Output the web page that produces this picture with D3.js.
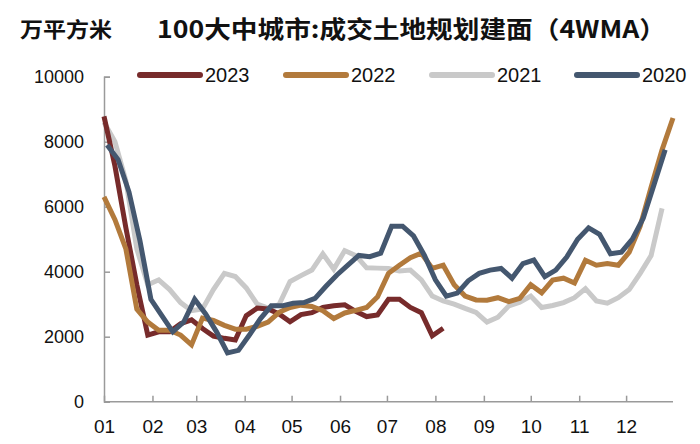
<!DOCTYPE html>
<html>
<head>
<meta charset="utf-8">
<script src="https://cdn.jsdelivr.net/npm/d3@7"></script>
<style>
  html, body { margin: 0; padding: 0; background: #fff; }
  svg { display: block; }
</style>
</head>
<body>
<svg id="chart" width="700" height="444"></svg>
<script>
// ---- data (weekly 4WMA, 万平方米) ----
const seriesNames = ["2023", "2022", "2021", "2020"];
// day-of-year of the first weekly observation for each series
const firstDay = { "2023": 0, "2022": 0, "2021": 0, "2020": 2 };

const values2023 = [8780, 7250, 5350, 3600, 2050, 2150, 2150, 2400, 2520, 2250, 2020, 1950, 1900,
  2650, 2880, 2850, 2700, 2460, 2680, 2740, 2900, 2950, 2980, 2780, 2620, 2670, 3150, 3150, 2900, 2740, 2030, 2260];

const values2022 = [6300, 5600, 4700, 2850, 2450, 2200, 2200, 2050, 1750, 2570, 2500, 2350, 2230,
  2230, 2320, 2450, 2750, 2900, 2970, 2930, 2800, 2560, 2730, 2810, 2900, 3230, 3950, 4200, 4430,
  4570, 4100, 4200, 3600, 3250, 3130, 3120, 3200, 3080, 3180, 3600, 3350, 3740, 3800, 3650, 4350,
  4200, 4250, 4200, 4600, 5400, 6600, 7750, 8730];

const values2021 = [8600, 8000, 6800, 4700, 3600, 3750, 3450, 3050, 2800, 2850, 3450, 3950, 3850,
  3500, 3000, 2880, 2990, 3700, 3880, 4050, 4550, 4080, 4650, 4500, 4120, 4110, 4100, 4020, 4050,
  3750, 3250, 3100, 3000, 2870, 2750, 2450, 2600, 2950, 3060, 3250, 2900, 2960, 3050, 3200, 3480,
  3100, 3030, 3200, 3450, 3950, 4500, 5950];

const values2020 = [7900, 7450, 6450, 4950, 3150, 2650, 2150, 2450, 3150, 2700, 2150, 1500, 1580,
  2050, 2550, 2950, 2950, 3030, 3050, 3180, 3550, 3900, 4200, 4500, 4460, 4570, 5400, 5400, 5100,
  4500, 3750, 3250, 3340, 3720, 3950, 4050, 4100, 3800, 4250, 4360, 3850, 4050, 4450, 5000, 5350,
  5150, 4550, 4600, 5000, 5650, 6700, 7750];

const seriesValues = { "2023": values2023, "2022": values2022, "2021": values2021, "2020": values2020 };
const seriesColors = { "2023": "#772B2B", "2022": "#B27A3C", "2021": "#C9C9C9", "2020": "#44576F" };

const monthLabels = ["01", "02", "03", "04", "05", "06", "07", "08", "09", "10", "11", "12"];
const monthStartDays = [0, 31, 59, 90, 120, 151, 181, 212, 243, 273, 304, 334];
const yTicks = [0, 2000, 4000, 6000, 8000, 10000];

const unitLabel = "万平方米";
const titleText = "100大中城市:成交土地规划建面（4WMA）";

// ---- layout ----
const svg = d3.select("#chart");
const x = d3.scaleLinear().domain([0, 364]).range([104, 673]);
const y = d3.scaleLinear().domain([0, 10000]).range([401.7, 76.7]);
const axisColor = "#9a9a9a";
const textColor = "#111";
const numFont = "'Liberation Sans', Arial, sans-serif";
const cjkFont = "'Noto Sans CJK SC', 'Noto Sans', sans-serif";

// title
svg.append("text")
  .attr("x", 20).attr("y", 37)
  .attr("font-family", cjkFont).attr("font-weight", "bold")
  .attr("font-size", 21).attr("fill", textColor)
  .attr("textLength", 92).attr("lengthAdjust", "spacingAndGlyphs")
  .text(unitLabel);
svg.append("text")
  .attr("x", 157).attr("y", 38)
  .attr("font-family", cjkFont).attr("font-weight", "bold")
  .attr("font-size", 24).attr("fill", textColor)
  .attr("textLength", 509).attr("lengthAdjust", "spacingAndGlyphs")
  .text(titleText);

// y axis
const yAxis = d3.axisLeft(y).tickValues(yTicks).tickSize(-6).tickPadding(20)
  .tickFormat(d3.format("d"));
const gy = svg.append("g").attr("transform", "translate(104,0)").call(yAxis);
gy.select(".domain").attr("stroke", axisColor).attr("stroke-width", 1.5);
gy.selectAll(".tick line").attr("stroke", axisColor).attr("stroke-width", 1.5);
gy.selectAll(".tick text").attr("font-family", numFont).attr("font-size", 18).attr("fill", textColor);

// x axis
const xAxis = d3.axisBottom(x).tickValues(monthStartDays).tickSize(-6).tickPadding(18)
  .tickFormat((d, i) => monthLabels[i]);
const gx = svg.append("g").attr("transform", "translate(0,401.7)").call(xAxis);
gx.select(".domain").attr("stroke", axisColor).attr("stroke-width", 1.5)
  .attr("d", `M${x(0)},0H${x(364)}`);
gx.selectAll(".tick line").attr("stroke", axisColor).attr("stroke-width", 1.5);
gx.selectAll(".tick text").attr("font-family", numFont).attr("font-size", 19).attr("fill", textColor);

// lines
const line = d3.line()
  .x(d => x(d.day))
  .y(d => y(d.value));

const drawOrder = ["2021", "2023", "2022", "2020"];
drawOrder.forEach(name => {
  const pts = seriesValues[name].map((v, i) => ({ day: firstDay[name] + 7 * i, value: v }));
  svg.append("path")
    .datum(pts)
    .attr("fill", "none")
    .attr("stroke", seriesColors[name])
    .attr("stroke-width", 5)
    .attr("stroke-linejoin", "miter")
    .attr("d", line);
});

// legend
const legendX = [140, 286, 432, 577];
const legend = svg.append("g");
seriesNames.forEach((name, i) => {
  const g = legend.append("g").attr("transform", `translate(${legendX[i]},75)`);
  g.append("line").attr("x1", 0).attr("x2", 60).attr("y1", 0).attr("y2", 0)
    .attr("stroke", seriesColors[name]).attr("stroke-width", 6).attr("stroke-linecap", "round");
  g.append("text").attr("x", 65).attr("y", 0).attr("dy", "0.36em")
    .attr("font-family", numFont).attr("font-size", 20).attr("fill", textColor)
    .text(name);
});
</script>
</body>
</html>
